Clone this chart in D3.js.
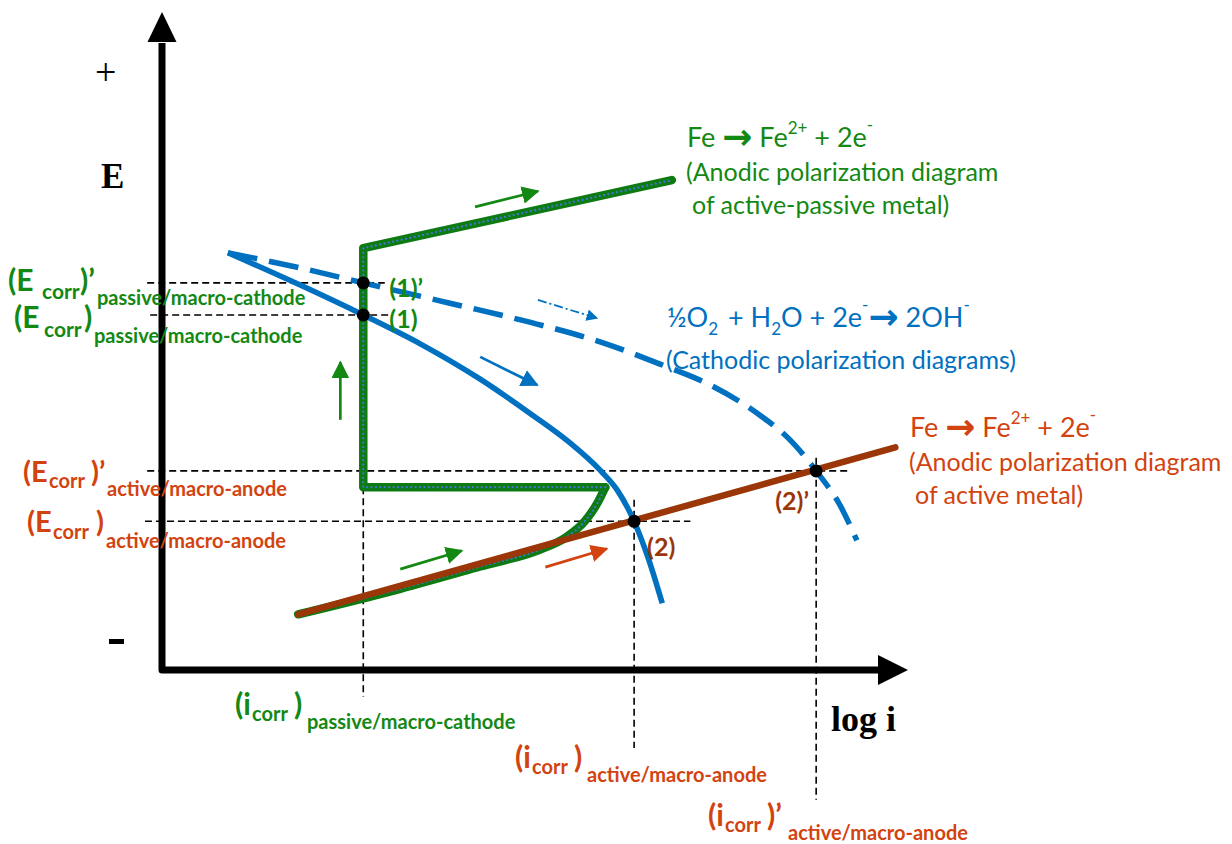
<!DOCTYPE html>
<html>
<head>
<meta charset="utf-8">
<script src="https://cdn.jsdelivr.net/npm/d3@7"></script>
<style>
  html, body { margin: 0; padding: 0; background: #fff; }
  svg { display: block; }
  text { font-family: Lato, "Open Sans", "DejaVu Sans", sans-serif; }
</style>
</head>
<body>
<svg id="chart" width="1232" height="844"></svg>
<script>
// Evans diagram: anodic / cathodic polarization curves (schematic units, 0..100 on both axes)

// Anodic curve of the active metal (straight Tafel line)
const redAnodeLine = [[18.4, 8.5], [99.1, 34.0]];

// Anodic curve of the active-passive metal: active branch (curved) and passive branch (polyline)
const greenActiveBranch = [
  [18.4, 8.5], [32.2, 12.4], [43.0, 15.8], [51.1, 18.4], [54.5, 20.2],
  [57.2, 22.8], [58.9, 25.6], [59.9, 27.9]
];
const greenPassiveBranch = [[59.9, 27.9], [27.2, 27.9], [27.2, 64.4], [68.9, 74.8]];

// Cathodic curves for oxygen reduction (solid and dashed)
const cathodicSolid = [
  [8.9, 63.7], [18.6, 58.8], [27.2, 54.2], [34.9, 49.8], [43.0, 44.4],
  [49.7, 39.2], [55.1, 34.7], [59.2, 30.5], [61.5, 27.5], [63.8, 22.7],
  [65.7, 17.1], [67.6, 10.2]
];
const cathodicDashed = [
  [8.9, 63.7], [18.6, 61.4], [27.2, 59.1], [38.9, 56.0], [49.7, 53.1],
  [59.2, 50.1], [67.3, 46.7], [74.1, 43.5], [80.8, 38.9], [84.9, 35.1],
  [88.4, 30.4], [91.6, 25.2], [93.9, 19.8]
];

// Intersection (corrosion) points
const pointIds = ["(1)’", "(1)", "(2)", "(2)’"];
const pointX = [27.2, 27.2, 63.8, 88.4];
const pointY = [59.1, 54.2, 22.7, 30.4];

// Dashed guide lines: horizontal [y, x0, x1], vertical [x, y0, y1]
const guideH = [[59.1, -2.0, 30.1], [54.2, -1.6, 31.1], [30.4, -2.0, 93.0], [22.7, -2.3, 71.4]];
const guideV = [[27.2, 27.9, -4.1], [63.8, 26.0, -11.9], [88.4, 32.4, -19.8]];

// Direction arrows: [x0, y0, x1, y1, kind]
const directionArrows = [
  [42.3, 70.7, 50.8, 73.1, "green"],
  [50.8, 56.5, 58.8, 53.7, "blueDash"],
  [43.0, 47.8, 50.7, 43.5, "blue"],
  [24.1, 38.2, 24.1, 47.0, "green"],
  [32.2, 15.4, 40.5, 18.2, "green"],
  [51.8, 15.7, 60.1, 18.5, "red"]
];

const C = {
  green: "#138813", greenLine: "#0e7a12", dots: "#3b78d0",
  blue: "#0070c0", red: "#d2430f", brown: "#9a3608", black: "#000"
};

const svg = d3.select("#chart");
const xs = d3.scaleLinear().domain([0, 100]).range([162, 902]);
const ys = d3.scaleLinear().domain([0, 100]).range([670, 15]);

const line = d3.line().x(d => xs(d[0])).y(d => ys(d[1]));
const smooth = d3.line().x(d => xs(d[0])).y(d => ys(d[1])).curve(d3.curveMonotoneX);

// Arrow markers
const defs = svg.append("defs");
[["green", C.green], ["blue", C.blue], ["blueDash", C.blue], ["red", C.red]].forEach(([k, c]) => {
  defs.append("marker").attr("id", "arr-" + k)
    .attr("viewBox", "0 0 10 10").attr("refX", 9).attr("refY", 5)
    .attr("markerWidth", 6.5).attr("markerHeight", 6.5)
    .attr("markerUnits", "strokeWidth").attr("orient", "auto")
    .append("path").attr("d", "M0,0 L10,5 L0,10 Z").attr("fill", c);
});

// Guide lines
const guides = svg.append("g").attr("stroke", C.black).attr("stroke-width", 1.6)
  .attr("stroke-dasharray", "7,4").attr("fill", "none");
guideH.forEach(g => guides.append("line")
  .attr("x1", xs(g[1])).attr("x2", xs(g[2])).attr("y1", ys(g[0])).attr("y2", ys(g[0])));
guideV.forEach(g => guides.append("line")
  .attr("x1", xs(g[0])).attr("x2", xs(g[0])).attr("y1", ys(g[1])).attr("y2", ys(g[2])));

// Axes
svg.append("path")
  .attr("d", `M${xs(0)},${ys(100) + 28} L${xs(0)},${ys(0)} L${xs(100) - 22},${ys(0)}`)
  .attr("fill", "none").attr("stroke", C.black).attr("stroke-width", 7)
  .attr("stroke-linejoin", "round");
svg.append("path")
  .attr("d", `M${xs(0)},${ys(100) - 3} L${xs(0) - 14.5},${ys(100) + 27} L${xs(0) + 14.5},${ys(100) + 27} Z`)
  .attr("fill", C.black);
svg.append("path")
  .attr("d", `M${xs(100) + 6},${ys(0)} L${xs(100) - 24},${ys(0) - 15} L${xs(100) - 24},${ys(0) + 15} Z`)
  .attr("fill", C.black);

const serif = "'Liberation Serif', 'DejaVu Serif', serif";
svg.append("text").attr("x", 95).attr("y", 85).text("+")
  .style("font-family", serif).style("font-size", "38px");
svg.append("text").attr("x", 101).attr("y", 188).text("E")
  .style("font-family", serif).style("font-size", "35px").style("font-weight", "bold");
svg.append("rect").attr("x", 109).attr("y", 639).attr("width", 15).attr("height", 5).attr("fill", C.black);
svg.append("text").attr("x", 831).attr("y", 731).text("log i")
  .style("font-family", serif).style("font-size", "36px").style("font-weight", "bold");

// Green anodic curve (active-passive metal): green beads with blue centres
[smooth(greenActiveBranch), line(greenPassiveBranch)].forEach(d => {
  svg.append("path").attr("d", d).attr("fill", "none").attr("stroke", C.greenLine)
    .attr("stroke-width", 8.5).attr("stroke-linecap", "round").attr("stroke-linejoin", "round");
  svg.append("path").attr("d", d).attr("fill", "none").attr("stroke", C.dots)
    .attr("stroke-width", 2.3).attr("stroke-linecap", "round").attr("stroke-dasharray", "0.01,4.4");
});

// Red anodic line (active metal), over the green active branch
svg.append("path").attr("d", line(redAnodeLine))
  .attr("fill", "none").attr("stroke", C.brown).attr("stroke-width", 6.5).attr("stroke-linecap", "round");

// Cathodic curves
svg.append("path").attr("d", smooth(cathodicSolid))
  .attr("fill", "none").attr("stroke", C.blue).attr("stroke-width", 5.5);
svg.append("path").attr("d", smooth(cathodicDashed))
  .attr("fill", "none").attr("stroke", C.blue).attr("stroke-width", 5.5)
  .attr("stroke-dasharray", "30,12");

// Direction arrows
const arrowColor = { green: C.green, blue: C.blue, blueDash: C.blue, red: C.red };
directionArrows.forEach(a => {
  svg.append("line")
    .attr("x1", xs(a[0])).attr("y1", ys(a[1])).attr("x2", xs(a[2])).attr("y2", ys(a[3]))
    .attr("stroke", arrowColor[a[4]]).attr("stroke-width", a[4] === "blueDash" ? 1.8 : 2.7)
    .attr("stroke-dasharray", a[4] === "blueDash" ? "9,3,2,3" : null)
    .attr("marker-end", `url(#arr-${a[4]})`);
});

// Intersection dots
svg.append("g").selectAll("circle").data(pointIds).join("circle")
  .attr("cx", (d, i) => xs(pointX[i])).attr("cy", (d, i) => ys(pointY[i]))
  .attr("r", 6.5).attr("fill", C.black);

// Point labels
const pointLabelStyle = [
  { dx: 26, dy: 14, color: C.green },
  { dx: 26, dy: 13, color: C.green },
  { dx: 13, dy: 35, color: C.brown },
  { dx: -41, dy: 39, color: C.brown }
];
pointIds.forEach((id, i) => {
  const s = pointLabelStyle[i];
  svg.append("text").attr("x", xs(pointX[i]) + s.dx).attr("y", ys(pointY[i]) + s.dy)
    .text(id).attr("fill", s.color)
    .style("font-size", "25px").style("font-weight", "bold");
});

// Composite label helper: pieces [text, x, y, size]
function label(pieces, color) {
  const g = svg.append("g").attr("fill", color).style("font-weight", "bold");
  pieces.forEach(p => g.append("text").attr("x", p[1]).attr("y", p[2]).text(p[0])
    .style("font-size", p[3] + "px"));
}

// E_corr labels (left)
label([["(E", 8, 291, 30], ["corr", 42, 299, 21], [")’", 80, 291, 30], ["passive/macro-cathode", 97, 305, 20]], C.green);
label([["(E", 14, 328, 30], ["corr", 44, 337, 21], [")", 84, 328, 30], ["passive/macro-cathode", 94, 343, 20]], C.green);
label([["(E", 23, 482, 29], ["corr", 49, 488, 20], [")’", 91, 482, 29], ["active/macro-anode", 107, 496, 20]], C.red);
label([["(E", 27, 532, 29], ["corr", 53, 539, 20], [")", 96, 532, 29], ["active/macro-anode", 106, 548, 20]], C.red);

// i_corr labels (bottom)
label([["(i", 235, 715, 30], ["corr", 252, 721, 20], [")", 294, 715, 30], ["passive/macro-cathode", 307, 729, 20]], C.green);
label([["(i", 515, 768, 30], ["corr", 532, 774, 20], [")", 574, 768, 30], ["active/macro-anode", 587, 782, 20]], C.red);
label([["(i", 708, 826, 30], ["corr", 725, 832, 20], [")’", 767, 826, 30], ["active/macro-anode", 788, 840, 20]], C.red);

// Reaction equations and captions; parts: [text, dy, size, arrow glyph, dx]
function equation(x, y, color, parts) {
  const t = svg.append("text").attr("x", x).attr("y", y).attr("fill", color).style("font-size", "27px");
  parts.forEach(p => {
    const s = t.append("tspan").text(p[0]).attr("dy", p[1] || 0)
      .style("font-size", (p[2] || 27) + "px");
    if (p[3]) s.style("font-family", "'DejaVu Sans', sans-serif").style("font-weight", "bold");
    if (p[4]) s.attr("dx", p[4]);
  });
  return t;
}
function caption(x, y, color, str) {
  svg.append("text").attr("x", x).attr("y", y).attr("fill", color)
    .style("font-size", "25px").text(str);
}

equation(687, 147, C.green, [["Fe "], ["→", 2, 36, true], [" Fe", -2], ["2+", -13, 17], [" + 2e", 13], ["-", -16, 17]]);
caption(686, 181, C.green, "(Anodic polarization diagram");
caption(692, 214, C.green, "of active-passive metal)");

equation(667, 327, C.blue, [["½O"], ["2", 8, 17], [" + H", -8, 27, false, 3], ["2", 8, 17], ["O + 2e", -8], ["-", -16, 17], ["→", 18, 36, true], [" 2OH", -2], ["-", -16, 17]]);
caption(666, 369, C.blue, "(Cathodic polarization diagrams)");

equation(910, 437, C.red, [["Fe "], ["→", 2, 36, true], [" Fe", -2], ["2+", -13, 17], [" + 2e", 13], ["-", -16, 17]]);
caption(909, 471, C.red, "(Anodic polarization diagram");
caption(915, 504, C.red, "of active metal)");
</script>
</body>
</html>
